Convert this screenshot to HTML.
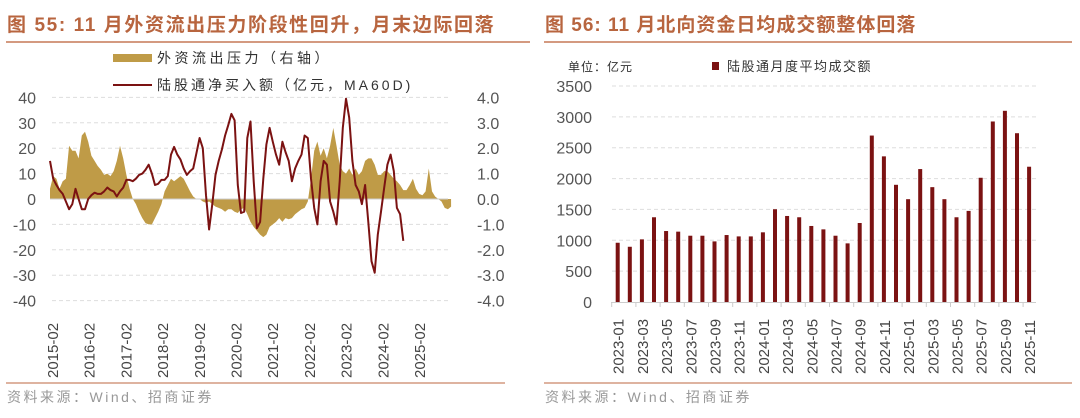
<!DOCTYPE html>
<html><head><meta charset="utf-8"><style>
body{margin:0;width:1080px;height:413px;background:#fff;overflow:hidden;font-family:"Liberation Sans","Noto Sans CJK SC",sans-serif;}
svg text{font-family:"Liberation Sans","Noto Sans CJK SC",sans-serif;}
</style></head><body>
<svg width="1080" height="413">
<g>
<text x="7" y="31" font-size="19" font-weight="bold" fill="#b8653f" letter-spacing="1.6">图 55:  11 月外资流出压力阶段性回升，月末边际回落</text>
<line x1="6" y1="42" x2="530" y2="42" stroke="#d49a80" stroke-width="2"/>
<rect x="113" y="54" width="39" height="8" fill="#bf9b47"/>
<text x="157" y="63" font-size="14" fill="#333" letter-spacing="3.5">外资流出压力（右轴）</text>
<line x1="113" y1="85" x2="152" y2="85" stroke="#7b1212" stroke-width="2"/>
<text x="157" y="90" font-size="14" fill="#333" letter-spacing="3">陆股通净买入额（亿元，MA60D)</text>
<g id="lg"></g>
<line x1="6" y1="383" x2="505" y2="383" stroke="#d49a80" stroke-width="1.5"/>
<text x="7" y="402" font-size="14" fill="#999" letter-spacing="2.5">资料来源：Wind、招商证券</text>
</g>
<g>
<text x="545" y="31" font-size="19" font-weight="bold" fill="#b8653f" letter-spacing="1">图 56:  11 月北向资金日均成交额整体回落</text>
<line x1="544" y1="42" x2="1072" y2="42" stroke="#d49a80" stroke-width="2"/>
<text x="568" y="71" font-size="12" fill="#333" letter-spacing="1">单位：亿元</text>
<rect x="712" y="62" width="7" height="8" fill="#7b1212"/>
<text x="727" y="71" font-size="13" fill="#333" letter-spacing="1.5">陆股通月度平均成交额</text>
<g id="rg"></g>
<line x1="544" y1="383" x2="1072" y2="383" stroke="#d49a80" stroke-width="1.5"/>
<text x="545" y="402" font-size="14" fill="#999" letter-spacing="2.5">资料来源：Wind、招商证券</text>
</g>
</svg>
<script>
const lineValues=[1.5,0.8,0.55,0.35,0.2,-0.1,-0.4,-0.2,0.4,0,-0.4,-0.4,0,0.15,0.25,0.2,0.2,0.3,0.45,0.35,0.3,0.1,0.3,0.45,0.75,0.75,0.7,0.8,0.95,1.0,1.15,1.35,1.0,0.55,0.6,0.75,0.75,0.9,1.75,2.05,1.75,1.55,1.2,0.95,1.1,1.2,1.8,2.4,2.0,0.15,-1.2,-0.2,0.95,1.5,1.95,2.5,2.9,3.35,3.1,0.55,-0.55,-0.5,2.4,3.05,0.7,-1.15,-0.9,0.8,2.15,2.8,2.25,1.75,1.35,2.25,1.85,1.5,0.7,1.2,1.5,1.75,2.5,2.4,0.8,-0.35,-1.0,0.7,1.5,1.35,-0.1,-0.5,-1.0,0.7,2.8,3.95,3.2,1.5,0.55,0.3,-0.2,0.55,-0.9,-2.45,-2.9,-1.4,-0.5,0.45,1.35,1.75,1.1,-0.35,-0.6,-1.65];
const areaValues=[4,9,8,4,7,8,21,19,19,16,25,26.5,22.6,17,15,13,11.5,9.5,10,9,11,15,21,16,9.5,4,0,-2,-5,-7.5,-9.5,-10,-10,-7.5,-5,-2,3,5.5,8,7,8,9,8,5.5,3,1,0,0,-1,-1.5,-1,-2,-3,-3.5,-4,-5,-4,-4,-5,-5.5,-4,-3.5,-6,-9,-11,-12.5,-14,-15,-14,-11,-10,-9,-7.5,-9,-7.5,-8,-7.5,-6,-5,-4,-3.5,-1,8,19,22.6,17,20,16,21,28,21,13.5,11,10,12,9.5,12,9.5,11,15,16,16,13.5,9.5,9.5,11,11,9.5,8,7,5.5,3.5,3.5,5.5,8,4,2,1.5,3,12,3,1,0,-1,-3.5,-4,-3];
const leftTicks=[40,30,20,10,0,-10,-20,-30,-40];
const rightTicks=["4.0","3.0","2.0","1.0","0.0","-1.0","-2.0","-3.0","-4.0"];
const leftXLabels=["2015-02","2016-02","2017-02","2018-02","2019-02","2020-02","2021-02","2022-02","2023-02","2024-02","2025-02"];
const barCategories=["2023-01","2023-02","2023-03","2023-04","2023-05","2023-06","2023-07","2023-08","2023-09","2023-10","2023-11","2023-12","2024-01","2024-02","2024-03","2024-04","2024-05","2024-06","2024-07","2024-08","2024-09","2024-10","2024-11","2024-12","2025-01","2025-02","2025-03","2025-04","2025-05","2025-06","2025-07","2025-08","2025-09","2025-10","2025-11"];
const barValues=[960,895,1015,1373,1150,1140,1074,1074,982,1085,1063,1063,1129,1503,1394,1373,1232,1177,1074,950,1280,2697,2360,1899,1666,2154,1861,1666,1373,1476,2013,2925,3098,2735,2192];
const barTicks=[0,500,1000,1500,2000,2500,3000,3500];
const NS="http://www.w3.org/2000/svg";
function mk(p,t,a){const e=document.createElementNS(NS,t);for(const k in a)e.setAttribute(k,a[k]);p.appendChild(e);return e;}
const lg=document.getElementById('lg');
const lx=i=>50+3.183*i, ly=v=>199-v*2.54, ry=v=>199-v*25.4;
leftTicks.forEach((t,k)=>{const y=ly(t);
 const g=mk(lg,'line',{x1:52,x2:448,y1:y,y2:y,stroke:'#ddd','stroke-dasharray':'4,3'});
 
 
 const tl=mk(lg,'text',{x:36,y:y+6,'font-size':16,fill:'#555','text-anchor':'end'});tl.textContent=t;
 
 
 const tr=mk(lg,'text',{x:477,y:y+6,'font-size':16,fill:'#555'});tr.textContent=rightTicks[k];
 
 
});
let d='M'+lx(0)+','+ly(0);areaValues.forEach((v,i)=>d+='L'+lx(i).toFixed(1)+','+ly(v).toFixed(1));d+='L'+lx(areaValues.length-1)+','+ly(0)+'Z';
const ar=mk(lg,'path',{d:d,fill:'#bf9b47'});


const ax=mk(lg,'line',{x1:50,x2:448,y1:199,y2:199,stroke:'#ccc'});


let p='';lineValues.forEach((v,i)=>p+=(i?'L':'M')+lx(i).toFixed(1)+','+ry(v).toFixed(1));
const ln=mk(lg,'path',{d:p,fill:'none',stroke:'#7b1212','stroke-width':2,'stroke-linejoin':'round'});


leftXLabels.forEach((s,k)=>{const x=52+36.7*k;
 const t=mk(lg,'text',{x:0,y:0,'font-size':15,fill:'#444',transform:`translate(${x+6},378) rotate(-90)`});t.textContent=s;
 
 
});
const rg=document.getElementById('rg');
const bx=i=>617.7+12.1*i, by=v=>302-v*216/3500;
barTicks.forEach(t=>{const y=by(t);
 if(t>0){const g=mk(rg,'line',{x1:612,x2:1036,y1:y,y2:y,stroke:'#ddd','stroke-dasharray':'4,3'});
 
 }
 const tl=mk(rg,'text',{x:592,y:y+6,'font-size':16,fill:'#555','text-anchor':'end'});tl.textContent=t;
 
 
});
barValues.forEach((v,i)=>{const r=mk(rg,'rect',{x:bx(i)-2,y:by(v),width:4,height:302-by(v),fill:'#7b1212'});
 
 
});
const bxa=mk(rg,'line',{x1:611,x2:1036,y1:302.5,y2:302.5,stroke:'#ccc'});


barCategories.forEach((c,i)=>{
 if(i%2===0){const tk=mk(rg,'line',{x1:bx(i)-6,x2:bx(i)-6,y1:302,y2:307,stroke:'#ccc'});
 
 
 const t=mk(rg,'text',{x:0,y:0,'font-size':15,fill:'#444',transform:`translate(${bx(i)+6},374) rotate(-90)`});t.textContent=c;
 
 }
});
</script>
</body></html>
